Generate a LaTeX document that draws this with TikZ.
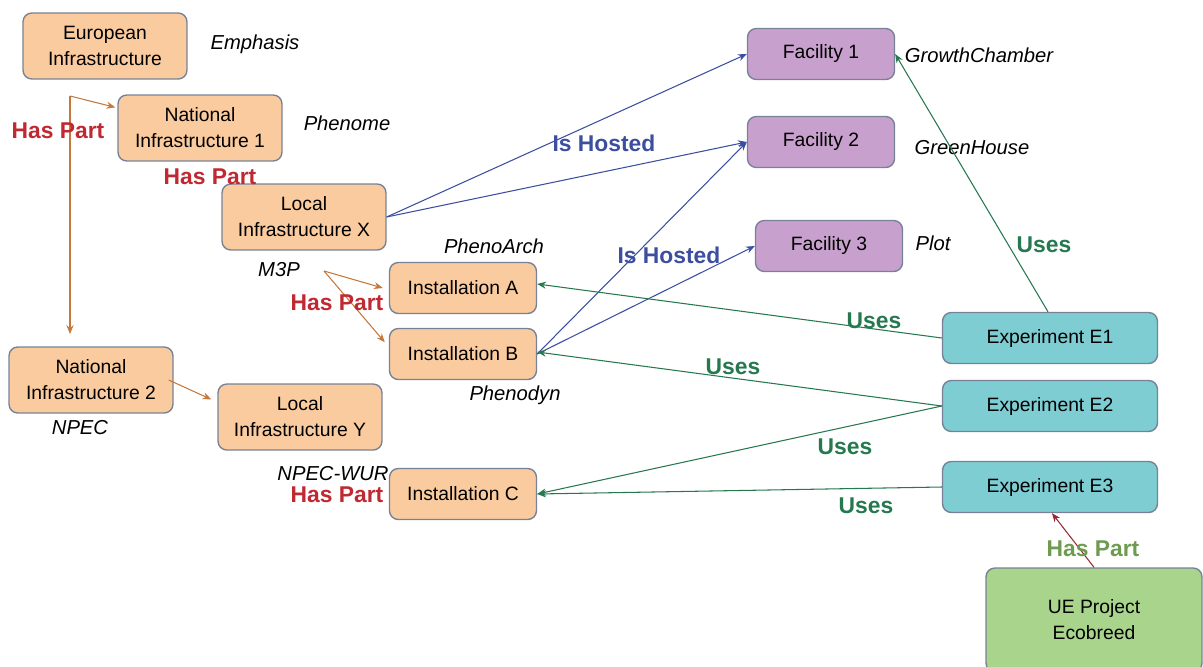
\documentclass[tikz,border=0pt]{standalone}
\usepackage{fontspec}
\setmainfont{Liberation Sans}
\usetikzlibrary{arrows.meta,positioning}
\usepackage{xcolor}
\definecolor{infrafill}{RGB}{250,203,158}
\definecolor{facilfill}{RGB}{200,160,205}
\definecolor{exptfill}{RGB}{125,205,210}
\definecolor{projfill}{RGB}{168,212,140}
\definecolor{boxedge}{RGB}{120,130,150}
\definecolor{partbrown}{RGB}{196,120,60}
\definecolor{hostblue}{RGB}{60,78,160}
\definecolor{usesgreen}{RGB}{38,120,78}
\definecolor{partred}{RGB}{192,40,50}
\definecolor{projgreen}{RGB}{110,155,80}
\definecolor{projred}{RGB}{150,40,50}

\begin{document}
\begin{tikzpicture}[x=0.02cm, y=-0.02cm,
    infra/.style={draw=boxedge, line width=0.8pt, fill=infrafill, rounded corners=5pt,
        minimum width=3.28cm, minimum height=1.32cm, align=center, inner sep=2pt,
        font=\fontsize{11}{14.8}\selectfont},
    inst/.style={infra, minimum width=2.94cm, minimum height=1.02cm},
    facil/.style={inst, fill=facilfill},
    expt/.style={inst, fill=exptfill, minimum width=4.3cm},
    proj/.style={infra, fill=projfill, minimum width=4.32cm, minimum height=2.08cm},
    tag/.style={font=\itshape\fontsize{11.5}{14}\selectfont},
    rel/.style={font=\bfseries\fontsize{13}{15}\selectfont},
    link/.style={line width=0.6pt, -{Stealth[length=5pt,width=4pt]}}]
    \useasboundingbox (0,0) rectangle (1203,666);
    \clip (0,0) rectangle (1203,666);

    % Infrastructures
    \node[infra] (eu)  at (105,46)  {European\\Infrastructure};
    \node[infra] (ni1) at (200,128) {National\\Infrastructure 1};
    \node[infra] (lix) at (304,217) {Local\\Infrastructure X};
    \node[infra] (ni2) at (91,380)  {National\\Infrastructure 2};
    \node[infra] (liy) at (300,417) {Local\\Infrastructure Y};

    % Installations
    \node[inst] (insta) at (463,288) {Installation A};
    \node[inst] (instb) at (463,354) {Installation B};
    \node[inst] (instc) at (463,494) {Installation C};

    % Facilities
    \node[facil] (fac1) at (821,54)  {Facility 1};
    \node[facil] (fac2) at (821,142) {Facility 2};
    \node[facil] (fac3) at (829,246) {Facility 3};

    % Experiments and project
    \node[expt] (exp1) at (1050,338) {Experiment E1};
    \node[expt] (exp2) at (1050,406) {Experiment E2};
    \node[expt] (exp3) at (1050,487) {Experiment E3};
    \node[proj] (ecob) at (1094,620) {UE Project\\Ecobreed};

    % Instance names
    \node[tag] (emph)  at (255,44)  {Emphasis};
    \node[tag] (phen)  at (347,123) {Phenome};
    \node[tag] (m3p)   at (279,270) {M3P};
    \node[tag] (parch) at (494,246) {PhenoArch};
    \node[tag] (pdyn)  at (515,395) {Phenodyn};
    \node[tag] (npec)  at (80,428)  {NPEC};
    \node[tag] (nwur)  at (333,474) {NPEC-WUR};
    \node[tag] (grow)  at (979,55)  {GrowthChamber};
    \node[tag] (green) at (972,148) {GreenHouse};
    \node[tag] (plot)  at (933,243) {Plot};

    % Has Part
    \coordinate (eusplit) at (70,96);
    \coordinate (ni2top) at (70,334);
    \coordinate (m3psplit) at (324,271);
    \draw[link, partbrown] (eusplit) -- ([shift={(-2,0)}]ni1.166);
    \draw[link, partbrown] (eusplit) -- (ni2top);
    \draw[link, partbrown] (m3psplit) -- ([shift={(-6,0)}]insta.west);
    \draw[link, partbrown] (m3psplit) -- ([shift={(-4,0)}]instb.171);
    \draw[link, partbrown] ([shift={(-5,0)}]ni2.east) -- ([shift={(-6,0)}]liy.168);
    \node[rel, partred] at (58,131)  {Has Part};
    \node[rel, partred] at (210,177) {Has Part};
    \node[rel, partred] at (337,303) {Has Part};
    \node[rel, partred] at (337,495) {Has Part};

    % Is Hosted
    \draw[link, hostblue] (lix.east) -- (fac1.west);
    \draw[link, hostblue] (lix.east) -- (fac2.west);
    \draw[link, hostblue] (instb.east) -- (fac2.west);
    \draw[link, hostblue] (instb.east) -- (fac3.west);
    \node[rel, hostblue] at (604,143) {Is Hosted};
    \node[rel, hostblue] at (669,255) {Is Hosted};

    % Uses
    \draw[link, usesgreen] (exp1.west) -- ([shift={(0,-4)}]insta.east);
    \draw[link, usesgreen] ([shift={(-2,0)}]exp1.north) -- (fac1.east);
    \draw[link, usesgreen] (exp2.west) -- ([shift={(0,-2)}]instb.east);
    \draw[link, usesgreen] (exp2.west) -- (instc.east);
    \draw[link, usesgreen] (exp3.west) -- (instc.east);
    \node[rel, usesgreen] at (1044,245) {Uses};
    \node[rel, usesgreen] at (874,321)  {Uses};
    \node[rel, usesgreen] at (733,367)  {Uses};
    \node[rel, usesgreen] at (845,447)  {Uses};
    \node[rel, usesgreen] at (866,506)  {Uses};

    % Project part
    \draw[link, projred] (ecob.north) -- ([shift={(2,0)}]exp3.south);
    \node[rel, projgreen] at (1093,549) {Has Part};
\end{tikzpicture}
\end{document}
